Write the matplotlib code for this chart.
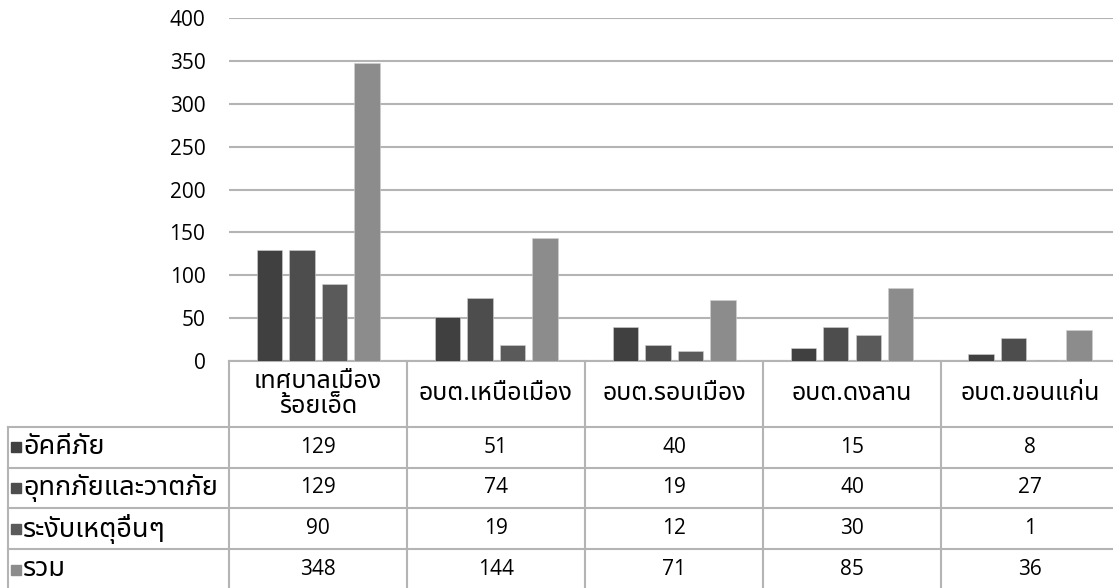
import numpy as np
import matplotlib
matplotlib.use("Agg")
import matplotlib.pyplot as plt
from matplotlib import font_manager
from matplotlib.ft2font import FT2Font

places = ["เทศบาลเมือง\nร้อยเอ็ด", "อบต.เหนือเมือง", "อบต.รอบเมือง", "อบต.ดงลาน", "อบต.ขอนแก่น"]
series_names = ["อัคคีภัย", "อุทกภัยและวาตภัย", "ระงับเหตุอื่นๆ", "รวม"]
fire = [129, 51, 40, 15, 8]
flood = [129, 74, 19, 40, 27]
other = [90, 19, 12, 30, 1]
total = [348, 144, 71, 85, 36]
yticks = [0, 50, 100, 150, 200, 250, 300, 350, 400]

colors = ["#404040", "#4d4d4d", "#5a5a5a", "#8c8c8c"]


def find_thai_font():
    # look for any installed font that has Thai glyphs
    found = []
    for f in font_manager.fontManager.ttflist:
        try:
            ft = FT2Font(f.fname)
            if ft.get_char_index(0x0E01) and ft.get_char_index(0x0E21):
                found.append(f.name)
        except Exception:
            pass
    for pref in ["Noto Sans Thai", "Noto Sans Thai UI", "Loma", "Garuda", "Tlwg Typo", "Waree"]:
        if pref in found:
            return pref
    return found[0] if found else None


thai = find_thai_font()
fams = ["Open Sans"]
if thai:
    fams.append(thai)
fams.append("DejaVu Sans")
thai_fams = ([thai] if thai else []) + ["Open Sans", "DejaVu Sans"]
plt.rcParams["font.family"] = fams
plt.rcParams["font.size"] = 15

W, H = 1113, 588
fig = plt.figure(figsize=(W / 100, H / 100), dpi=100)

# chart area
ax = fig.add_axes([229 / W, (H - 361) / H, (1119 - 229) / W, (361 - 18) / H])
data = [fire, flood, other, total]
x = np.arange(len(places))
pitch = 32.5 / 178
for k, vals in enumerate(data):
    ax.bar(x + (k - 1.5) * pitch, vals, width=25.5 / 178, color=colors[k],
           edgecolor="#d0d0d0", linewidth=0.4, zorder=3)
ax.set_xlim(-0.5, 4.5)
ax.set_ylim(0, 400)
ax.set_yticks(yticks)
ax.set_xticks([])
ax.yaxis.grid(True, color="#b4b4b4", linewidth=1.5, zorder=0)
ax.tick_params(axis="y", length=0, pad=17, labelsize=15, colors="black")
for s in ["top", "right", "left"]:
    ax.spines[s].set_visible(False)
ax.spines["bottom"].set_color("#b4b4b4")
ax.spines["bottom"].set_linewidth(1.5)
ax.set_facecolor("none")

# data table under the chart
col_w = 178
xl = -0.5 - (229 - 8) / col_w
tab = fig.add_axes([8 / W, (H - 590) / H, (1119 - 8) / W, (590 - 361) / H])
tab.set_xlim(xl, 4.5)
tab.set_ylim(229, 0)
tab.axis("off")
lc = "#b4b4b4"
rows_y = [66, 106.5, 147, 188, 229]
for b in np.arange(len(places) + 1) - 0.5:
    tab.plot([b, b], [0, 229], color=lc, lw=1.5, clip_on=False)
tab.plot([xl, xl], [66, 229], color=lc, lw=1.5, clip_on=False)
for yy in rows_y:
    tab.plot([xl, 4.5], [yy, yy], color=lc, lw=1.5, clip_on=False)

for i, name in enumerate(places):
    tab.text(i, 33, name, ha="center", va="center", fontsize=18,
             family=thai_fams, linespacing=1.05)

for r, (name, vals) in enumerate(zip(series_names, data)):
    yc = (rows_y[r] + rows_y[r + 1]) / 2
    tab.plot([-0.5 + (16 - 229) / col_w], [yc], marker="s", markersize=7.5,
             color=colors[r], clip_on=False)
    tab.text(-0.5 + (23 - 229) / col_w, yc, name, ha="left", va="center",
             fontsize=19.5, family=thai_fams)
    for i, v in enumerate(vals):
        tab.text(i, yc, str(v), ha="center", va="center", fontsize=15)

fig.savefig("out.png", dpi=100)
